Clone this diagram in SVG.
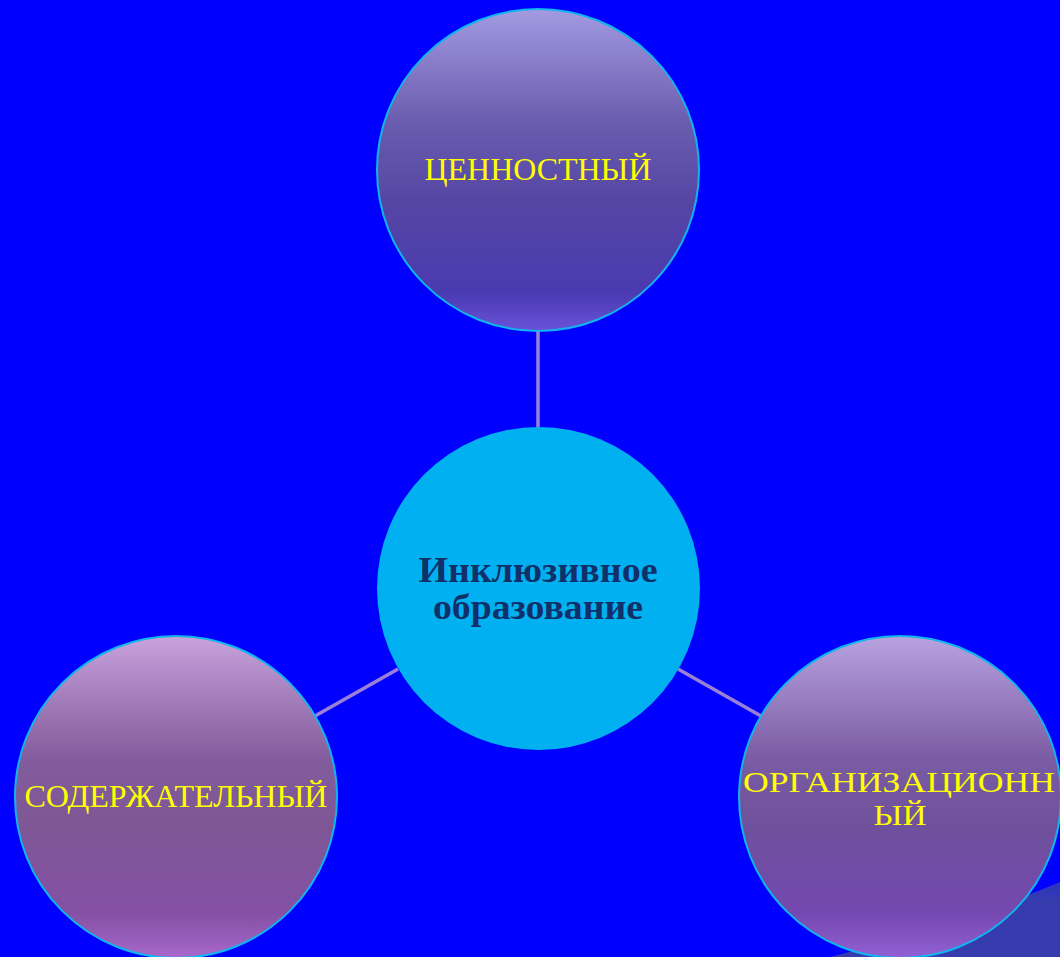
<svg xmlns="http://www.w3.org/2000/svg" width="1060" height="957" viewBox="0 0 1060 957">
<style>
.sat{stroke:#12B4EE;stroke-width:2}
.lbl{font-family:"Liberation Serif","DejaVu Serif",serif;font-size:32px;fill:#FFFF00;text-anchor:middle}
.lbl2{font-size:30px}
.ctr{font-family:"Liberation Serif","DejaVu Serif",serif;font-size:36px;font-weight:bold;fill:#10306A;text-anchor:middle}
.con{stroke:#9B80D8;stroke-width:3.5;fill:none}
</style>
<defs>
<linearGradient id="gTop" x1="0" y1="0" x2="0" y2="1">
<stop offset="0" stop-color="#A39AE2"/>
<stop offset="0.35" stop-color="#6A5CAE"/>
<stop offset="0.6" stop-color="#5546A4"/>
<stop offset="0.88" stop-color="#4A3AB0"/>
<stop offset="1" stop-color="#6A52DA"/>
</linearGradient>
<linearGradient id="gLeft" x1="0" y1="0" x2="0" y2="1">
<stop offset="0" stop-color="#C8A2DC"/>
<stop offset="0.38" stop-color="#825C9C"/>
<stop offset="0.6" stop-color="#7E5696"/>
<stop offset="0.86" stop-color="#8450A4"/>
<stop offset="1" stop-color="#A868CC"/>
</linearGradient>
<linearGradient id="gRight" x1="0" y1="0" x2="0" y2="1">
<stop offset="0" stop-color="#B8A2E0"/>
<stop offset="0.38" stop-color="#7A5CA4"/>
<stop offset="0.6" stop-color="#6E509C"/>
<stop offset="0.86" stop-color="#7448B0"/>
<stop offset="1" stop-color="#9260D4"/>
</linearGradient>
<linearGradient id="gSw" x1="0" y1="0" x2="0" y2="1">
<stop offset="0" stop-color="#2A34C0"/>
<stop offset="0.25" stop-color="#363CAE"/>
<stop offset="1" stop-color="#363CAE"/>
</linearGradient>
</defs>
<rect width="1060" height="957" fill="#0000FF"/>
<path d="M830 957 Q950 928 1060 882 L1060 957 Z" fill="url(#gSw)"/>
<g id="connectors">
<line class="con" x1="538" y1="331" x2="538" y2="427"/>
<line class="con" x1="315" y1="716" x2="398" y2="669"/>
<line class="con" x1="678" y1="669" x2="761" y2="716"/>
</g>
<g id="node-center">
<circle cx="538.5" cy="588.5" r="161.5" fill="#00B0F0"/>
<text class="ctr" x="538" y="582" textLength="239" lengthAdjust="spacingAndGlyphs">Инклюзивное</text>
<text class="ctr" x="538" y="619" textLength="210" lengthAdjust="spacingAndGlyphs">образование</text>
</g>
<g id="node-top">
<circle class="sat" cx="538" cy="170" r="161" fill="url(#gTop)"/>
<text class="lbl" x="538" y="180" textLength="227" lengthAdjust="spacingAndGlyphs">ЦЕННОСТНЫЙ</text>
</g>
<g id="node-left">
<circle class="sat" cx="176" cy="797" r="161" fill="url(#gLeft)"/>
<text class="lbl" x="176" y="807" textLength="303" lengthAdjust="spacingAndGlyphs">СОДЕРЖАТЕЛЬНЫЙ</text>
</g>
<g id="node-right">
<circle class="sat" cx="900" cy="797" r="161" fill="url(#gRight)"/>
<text class="lbl lbl2" x="899" y="792" textLength="312" lengthAdjust="spacingAndGlyphs">ОРГАНИЗАЦИОНН</text>
<text class="lbl lbl2" x="900" y="825" textLength="53" lengthAdjust="spacingAndGlyphs">ЫЙ</text>
</g>
</svg>
